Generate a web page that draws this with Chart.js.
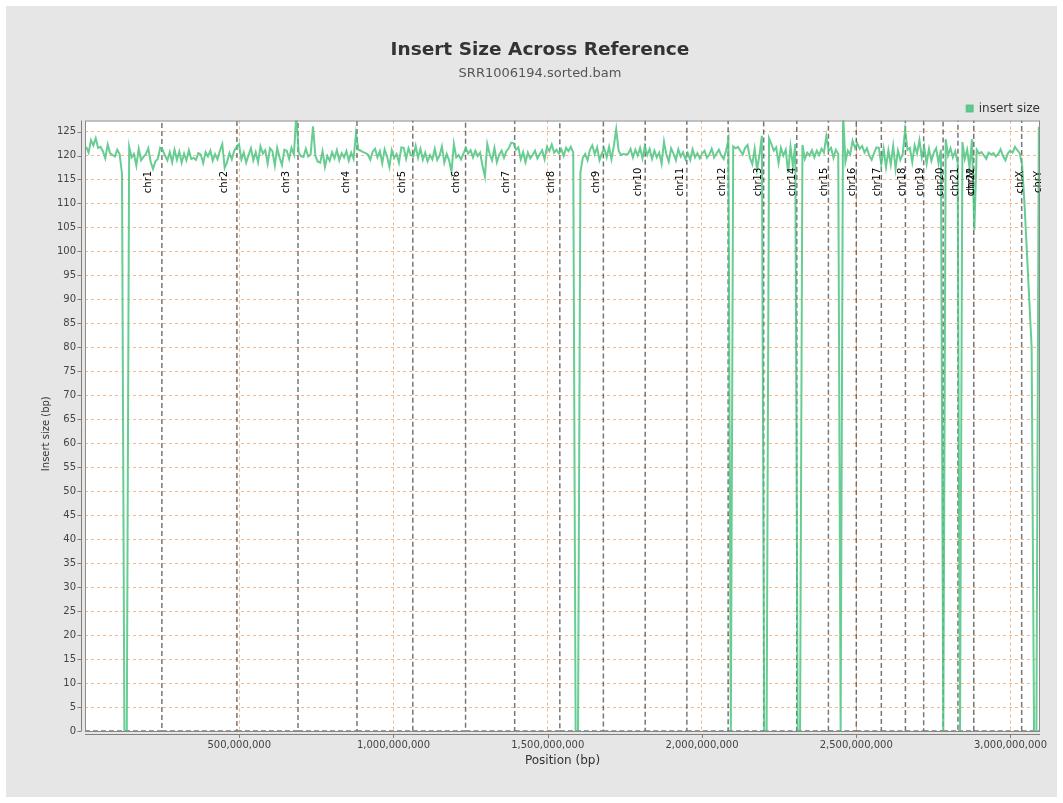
<!DOCTYPE html>
<html>
<head>
<meta charset="utf-8">
<title>Insert Size Across Reference</title>
<script src="https://cdn.jsdelivr.net/npm/chart.js@4.4.1/dist/chart.umd.min.js"></script>
<style>
    html, body { margin: 0; padding: 0; background: #ffffff; }
    #wrap { position: relative; width: 1063px; height: 803px; }
</style>
</head>
<body>
<div id="wrap"><canvas id="insertSizeChart" width="1063" height="803"></canvas></div>
<script>
// Reference chromosomes (hg19) in the order they appear along the x axis
const chromNames = ['chr1', 'chr2', 'chr3', 'chr4', 'chr5', 'chr6', 'chr7', 'chr8', 'chr9', 'chr10',
    'chr11', 'chr12', 'chr13', 'chr14', 'chr15', 'chr16', 'chr17', 'chr18', 'chr19', 'chr20',
    'chr21', 'chr22', 'chrM', 'chrX', 'chrY'];
const chromLengths = [249250621, 243199373, 198022430, 191154276, 180915260, 171115067, 159138663,
    146364022, 141213431, 135534747, 135006516, 133851895, 115169878, 107349540, 102531392,
    90354753, 81195210, 78077248, 59128983, 63025520, 48129895, 51304566, 16571, 155270560, 59373566];

// Mean insert size per window (400 windows across the genome)
const insertSize = [
    121.8, 120.6, 123.2, 122.1, 123.6, 121.6, 121.8, 120.9, 119.4, 122.3,
    120.5, 120.1, 119.8, 121.2, 120.3, 116.2, 0, 0, 121.8, 119.6,
    120.3, 117.9, 121.4, 119.0, 119.7, 120.3, 121.5, 118.7, 117.2, 118.8,
    119.3, 121.6, 121.2, 120.0, 119.0, 120.7, 118.6, 121.2, 119.1, 120.8,
    118.5, 120.4, 119.0, 121.1, 119.3, 119.5, 119.1, 120.5, 120.2, 118.4,
    120.7, 119.8, 121.0, 118.9, 120.3, 119.2, 121.0, 122.4, 117.4, 118.6,
    120.5, 119.2, 121.0, 121.8, 122.4, 119.2, 120.6, 118.5, 120.1, 121.5,
    119.0, 120.7, 118.6, 121.9, 120.4, 121.1, 118.3, 121.5, 120.9, 117.9,
    121.6, 119.6, 118.0, 121.2, 121.0, 119.3, 121.6, 120.2, 128.5, 120.6,
    119.8, 119.7, 121.4, 119.8, 120.2, 126.1, 119.9, 118.7, 118.5, 120.9,
    117.6, 119.9, 118.9, 120.7, 119.4, 121.1, 119.0, 120.5, 119.6, 120.9,
    118.9, 120.6, 119.3, 124.6, 121.2, 121.0, 120.7, 120.5, 120.2, 119.1,
    120.8, 121.4, 119.6, 120.9, 118.4, 121.3, 119.8, 117.6, 121.1, 119.5,
    120.3, 118.5, 121.7, 121.6, 119.3, 121.5, 120.1, 119.8, 122.0, 119.5,
    121.4, 119.1, 120.6, 118.8, 120.1, 119.2, 121.4, 119.1, 120.0, 121.9,
    118.5, 120.3, 119.0, 116.6, 122.4, 119.6, 120.1, 119.2, 120.4, 121.6,
    120.4, 121.1, 119.6, 121.0, 119.9, 120.6, 117.8, 115.6, 122.4, 120.3,
    119.0, 121.6, 118.6, 120.2, 121.0, 119.5, 120.9, 121.5, 122.7, 122.6,
    121.2, 121.7, 119.2, 120.7, 118.6, 120.6, 119.4, 120.1, 121.0, 119.4,
    120.3, 121.1, 119.2, 121.8, 120.9, 122.3, 120.6, 121.2, 120.4, 121.3,
    119.9, 121.6, 120.9, 121.8, 120.6, 0, 0, 116.5, 119.5, 120.3,
    119.0, 121.2, 122.1, 120.3, 121.7, 119.0, 120.5, 121.4, 119.6, 121.8,
    119.2, 122.0, 125.5, 121.0, 120.1, 120.3, 120.2, 120.4, 121.4, 119.6,
    121.2, 120.0, 121.6, 119.4, 121.9, 120.1, 121.4, 119.3, 121.0, 119.6,
    120.6, 118.3, 122.9, 120.2, 118.7, 121.5, 120.4, 119.0, 121.3, 119.8,
    120.7, 119.2, 120.5, 119.1, 121.3, 119.6, 120.5, 119.4, 120.4, 121.0,
    119.5, 120.2, 121.4, 119.6, 120.4, 121.2, 120.0, 119.3, 121.0, 123.3,
    0, 121.9, 121.5, 121.8, 121.0, 120.2, 121.6, 122.2, 119.5, 118.2,
    121.4, 117.1, 120.1, 124.1, 0, 0, 123.6, 122.4, 121.0, 121.7,
    118.4, 121.6, 120.0, 121.2, 116.4, 121.9, 117.8, 122.4, 0, 0,
    122.2, 119.3, 120.6, 120.0, 121.1, 119.6, 121.0, 120.1, 121.4, 120.6,
    124.0, 121.0, 121.6, 119.5, 121.2, 120.3, 0, 129.0, 118.7, 121.0,
    120.2, 123.1, 121.6, 122.5, 121.4, 122.0, 120.6, 121.5, 120.0, 119.1,
    120.5, 121.7, 121.6, 118.2, 121.4, 117.6, 121.1, 118.1, 122.0, 117.2,
    121.0, 119.1, 120.3, 125.4, 121.2, 121.6, 118.6, 122.1, 120.4, 123.2,
    119.6, 121.8, 118.3, 121.4, 118.9, 120.6, 121.5, 118.4, 121.2, 0,
    123.4, 120.0, 121.5, 119.6, 120.9, 118.6, 0, 122.8, 119.3, 121.2,
    117.5, 123.4, 104.5, 121.2, 120.4, 120.7, 120.0, 119.3, 120.6, 120.2,
    120.5, 119.8, 120.3, 121.3, 119.9, 119.0, 120.4, 121.0, 120.6, 121.8,
    121.1, 120.5, 118.0, 110.0, null, null, 80.0, 0, 0, 126.0
];

// Axis ticks
const xTickValues = [500000000, 1000000000, 1500000000, 2000000000, 2500000000, 3000000000];
const yMax = 127.3;

const FONT = 'DejaVu Sans';
const GREEN = 'rgba(76, 196, 128, 0.85)';
const GRID = 'rgb(245, 185, 140)';

const genomeLength = chromLengths.reduce((a, b) => a + b, 0);
const windowSize = genomeLength / insertSize.length;
const insertPoints = insertSize.map((v, i) => ({ x: (i + 0.5) * windowSize, y: v }));

// chromosome ends
const chromEnds = [];
let acc = 0;
chromLengths.forEach(len => { acc += len; chromEnds.push(acc); });

// Marker series: dashed baseline plus a vertical line at every chromosome end
const markerPoints = [{ x: 0, y: 0 }];
chromEnds.forEach(end => {
    markerPoints.push({ x: end, y: 0 }, { x: end, y: yMax }, { x: end, y: null }, { x: end, y: 0 });
});

// Background, plot frame, axis lines and tick marks
const framePlugin = {
    id: 'frame',
    beforeDraw(chart) {
        const { ctx, chartArea: a } = chart;
        ctx.save();
        ctx.fillStyle = '#e6e6e6';
        ctx.fillRect(6, 6, 1051, 791);
        ctx.fillStyle = '#ffffff';
        ctx.fillRect(a.left, a.top, a.right - a.left, a.bottom - a.top);
        ctx.restore();
    },
    afterDraw(chart) {
        const { ctx, chartArea: a, scales } = chart;
        ctx.save();
        ctx.strokeStyle = '#8a8a8a';
        ctx.lineWidth = 1;
        ctx.strokeRect(a.left + 0.5, a.top + 0.5, a.right - a.left - 1, a.bottom - a.top);
        ctx.strokeStyle = '#808080';
        ctx.beginPath();
        ctx.moveTo(a.left, a.bottom + 3.5);
        ctx.lineTo(a.right, a.bottom + 3.5);
        ctx.moveTo(a.left - 3.5, a.top);
        ctx.lineTo(a.left - 3.5, a.bottom);
        scales.x.ticks.forEach(t => {
            const px = Math.round(scales.x.getPixelForValue(t.value)) + 0.5;
            ctx.moveTo(px, a.bottom + 3.5);
            ctx.lineTo(px, a.bottom + 7);
        });
        scales.y.ticks.forEach(t => {
            const py = Math.round(scales.y.getPixelForValue(t.value)) + 0.5;
            ctx.moveTo(a.left - 3.5, py);
            ctx.lineTo(a.left - 7.5, py);
        });
        ctx.stroke();
        ctx.restore();
    }
};

// Chromosome names to the left of their end lines
const chromLabelPlugin = {
    id: 'chromLabels',
    afterDatasetsDraw(chart) {
        const { ctx, scales } = chart;
        ctx.save();
        ctx.font = '10px "' + FONT + '"';
        ctx.fillStyle = '#000000';
        ctx.textAlign = 'center';
        ctx.textBaseline = 'middle';
        chromEnds.forEach((end, i) => {
            const px = scales.x.getPixelForValue(end);
            const gap = 14.5 - 13 * end / genomeLength;
            ctx.save();
            ctx.translate(px - gap, 182);
            ctx.rotate(-Math.PI / 2);
            ctx.fillText(chromNames[i], 0, 0);
            ctx.restore();
        });
        ctx.restore();
    }
};

document.addEventListener('DOMContentLoaded', function() {
    const ctx = document.getElementById('insertSizeChart').getContext('2d');
    new Chart(ctx, {
        type: 'line',
        data: {
            datasets: [{
                label: 'insert size',
                data: insertPoints,
                borderColor: GREEN,
                backgroundColor: GREEN,
                borderWidth: 2,
                pointRadius: 0,
                tension: 0,
                spanGaps: true,
                clip: 0,
                order: 1
            }, {
                label: 'chromosomes',
                data: markerPoints,
                borderColor: 'rgba(60, 60, 60, 0.7)',
                borderWidth: 1.5,
                borderDash: [5, 3],
                pointRadius: 0,
                spanGaps: false,
                clip: 0,
                order: 2
            }]
        },
        options: {
            responsive: false,
            animation: false,
            layout: { padding: { top: 0, left: 40, right: 23, bottom: 0 } },
            plugins: {
                title: {
                    display: true,
                    text: 'Insert Size Across Reference',
                    color: '#333333',
                    font: { family: FONT, size: 18.5, weight: 'bold' },
                    padding: { top: 39, bottom: 0 }
                },
                subtitle: {
                    display: true,
                    text: 'SRR1006194.sorted.bam',
                    color: '#555555',
                    font: { family: FONT, size: 13 },
                    padding: { top: 5, bottom: 20.7 }
                },
                legend: {
                    position: 'top',
                    align: 'end',
                    maxHeight: 18,
                    labels: {
                        filter: item => item.datasetIndex === 0,
                        boxWidth: 6,
                        boxHeight: 6,
                        padding: 0,
                        color: '#333333',
                        font: { family: FONT, size: 12 }
                    }
                },
                tooltip: { enabled: false }
            },
            scales: {
                x: {
                    type: 'linear',
                    min: 0,
                    max: genomeLength,
                    afterFit: s => { s.height = 72; },
                    afterBuildTicks: s => { s.ticks = xTickValues.map(v => ({ value: v })); },
                    grid: { color: GRID, lineWidth: 1, drawTicks: false },
                    border: { display: false, dash: [3, 3] },
                    ticks: {
                        padding: 8,
                        maxRotation: 0,
                        autoSkip: false,
                        color: '#444444',
                        font: { family: FONT, size: 10 },
                        callback: v => v.toLocaleString('en-US')
                    },
                    title: {
                        display: true,
                        text: 'Position (bp)',
                        color: '#333333',
                        font: { family: FONT, size: 12 },
                        padding: { top: 0, bottom: 34.8 }
                    }
                },
                y: {
                    min: 0,
                    max: yMax,
                    afterFit: s => { s.width = 45; },
                    grid: { color: GRID, lineWidth: 1, drawTicks: false },
                    border: { display: false, dash: [3, 3] },
                    ticks: {
                        stepSize: 5,
                        includeBounds: false,
                        padding: 9,
                        color: '#444444',
                        font: { family: FONT, size: 10 }
                    },
                    title: {
                        display: true,
                        text: 'Insert size (bp)     ',
                        color: '#333333',
                        font: { family: FONT, size: 10 },
                        padding: { top: 0, bottom: 0 }
                    }
                }
            }
        },
        plugins: [framePlugin, chromLabelPlugin]
    });
});
</script>
</body>
</html>
